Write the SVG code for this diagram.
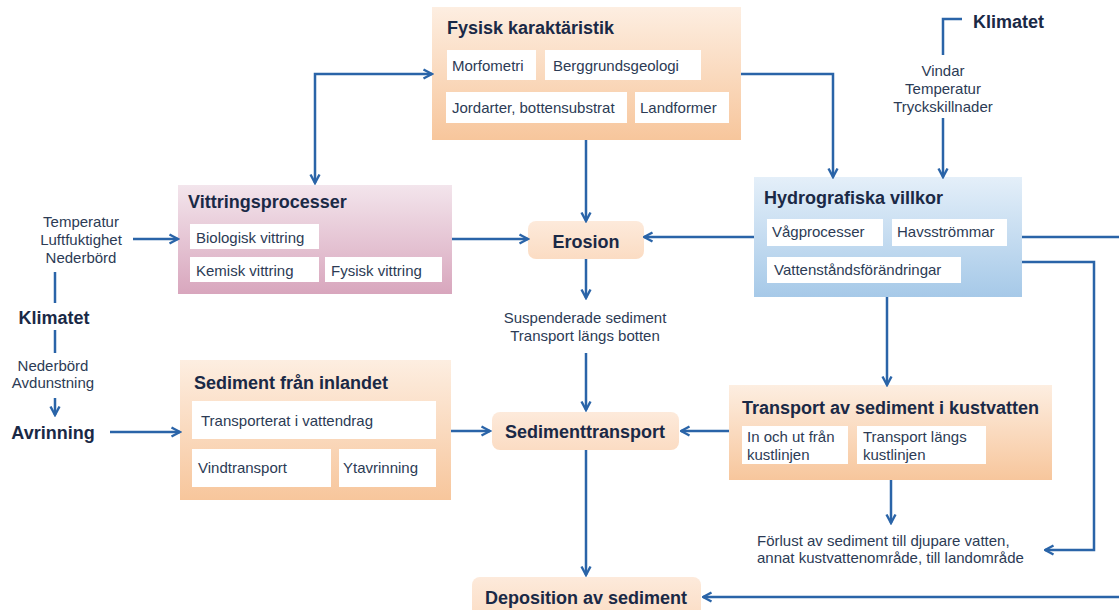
<svg xmlns="http://www.w3.org/2000/svg" width="1119" height="610" viewBox="0 0 1119 610">
<defs>
<linearGradient id="gOr" x1="0" y1="0" x2="0" y2="1"><stop offset="0" stop-color="#fdeee1"/><stop offset="1" stop-color="#f7c69c"/></linearGradient>
<linearGradient id="gBl" x1="0" y1="0" x2="0" y2="1"><stop offset="0" stop-color="#e4eff9"/><stop offset="1" stop-color="#a6c9e8"/></linearGradient>
<linearGradient id="gPk" x1="0" y1="0" x2="0" y2="1"><stop offset="0" stop-color="#f3e5ec"/><stop offset="1" stop-color="#d8a6bd"/></linearGradient>
<linearGradient id="gPe" x1="0" y1="0" x2="0" y2="1"><stop offset="0" stop-color="#fdeadb"/><stop offset="1" stop-color="#fbdcc3"/></linearGradient>
<marker id="ah" viewBox="0 0 12 12" refX="10.5" refY="6" markerWidth="12" markerHeight="12" markerUnits="userSpaceOnUse" orient="auto-start-reverse">
<path d="M2,1.5 L10.5,6 L2,10.5" fill="none" stroke="#2a64a8" stroke-width="2.4"/>
</marker>
</defs>
<style>
.t{font-family:"Liberation Sans",Arial,sans-serif;font-size:15px;fill:#2c3b55}
.b{font-family:"Liberation Sans",Arial,sans-serif;font-size:18px;font-weight:bold;fill:#1a2946}
.m{text-anchor:middle}
.in{fill:#ffffff}
.c path{fill:none;stroke:#2a64a8;stroke-width:2.5}
</style>
<rect width="1119" height="610" fill="#ffffff"/>

<g id="fysisk">
<rect x="432" y="7" width="309" height="133" fill="url(#gOr)"/>
<text class="b" x="447" y="34">Fysisk karaktäristik</text>
<rect class="in" x="447" y="50" width="89" height="30"/>
<text class="t" x="452" y="71">Morfometri</text>
<rect class="in" x="545" y="50" width="156" height="30"/>
<text class="t" x="553" y="71">Berggrundsgeologi</text>
<rect class="in" x="446" y="92" width="181" height="31"/>
<text class="t" x="452" y="113">Jordarter, bottensubstrat</text>
<rect class="in" x="635" y="92" width="94" height="31"/>
<text class="t" x="640" y="113">Landformer</text>
</g>

<g id="hydro">
<rect x="754" y="177" width="268" height="120" fill="url(#gBl)"/>
<text class="b" x="764" y="204">Hydrografiska villkor</text>
<rect class="in" x="767" y="219" width="116" height="27"/>
<text class="t" x="772" y="237">Vågprocesser</text>
<rect class="in" x="892" y="219" width="115" height="27"/>
<text class="t" x="897" y="237">Havsströmmar</text>
<rect class="in" x="767" y="257" width="194" height="26"/>
<text class="t" x="774" y="275">Vattenståndsförändringar</text>
</g>

<g id="vittring">
<rect x="178" y="185" width="274" height="109" fill="url(#gPk)"/>
<text class="b" x="188" y="208">Vittringsprocesser</text>
<rect class="in" x="190" y="224" width="129" height="25"/>
<text class="t" x="196" y="243">Biologisk vittring</text>
<rect class="in" x="190" y="257" width="129" height="25"/>
<text class="t" x="196" y="276">Kemisk vittring</text>
<rect class="in" x="325" y="257" width="117" height="25"/>
<text class="t" x="331" y="276">Fysisk vittring</text>
</g>

<g id="inlandet">
<rect x="180" y="360" width="271" height="140" fill="url(#gOr)"/>
<text class="b" x="194" y="389">Sediment från inlandet</text>
<rect class="in" x="192" y="401" width="244" height="38"/>
<text class="t" x="201" y="426">Transporterat i vattendrag</text>
<rect class="in" x="192" y="449" width="139" height="38"/>
<text class="t" x="198" y="473">Vindtransport</text>
<rect class="in" x="339" y="449" width="97" height="38"/>
<text class="t" x="343" y="473">Ytavrinning</text>
</g>

<g id="kustvatten">
<rect x="729" y="385" width="323" height="95" fill="url(#gOr)"/>
<text class="b" x="742" y="414">Transport av sediment i kustvatten</text>
<rect class="in" x="742" y="426" width="106" height="38"/>
<text class="t" x="747" y="442">In och ut från</text>
<text class="t" x="747" y="460">kustlinjen</text>
<rect class="in" x="857" y="426" width="129" height="38"/>
<text class="t" x="863" y="442">Transport längs</text>
<text class="t" x="863" y="460">kustlinjen</text>
</g>

<g id="erosion">
<rect x="528" y="221" width="116" height="38" rx="8" fill="url(#gPe)"/>
<text class="b m" x="586" y="248">Erosion</text>
</g>

<g id="sedimenttransport">
<rect x="492" y="412" width="187" height="38" rx="8" fill="url(#gPe)"/>
<text class="b m" x="585" y="438">Sedimenttransport</text>
</g>

<g id="deposition">
<rect x="472" y="577" width="229" height="44" rx="8" fill="url(#gPe)"/>
<text class="b m" x="586" y="604">Deposition av sediment</text>
</g>

<g id="klimatet-top">
<text class="b" x="973" y="28">Klimatet</text>
<text class="t m" x="943" y="76">Vindar</text>
<text class="t m" x="943" y="94">Temperatur</text>
<text class="t m" x="943" y="112">Tryckskillnader</text>
</g>

<g id="klimatet-left">
<text class="t m" x="81" y="227">Temperatur</text>
<text class="t m" x="81" y="245">Luftfuktighet</text>
<text class="t m" x="81" y="263">Nederbörd</text>
<text class="b m" x="54" y="324">Klimatet</text>
<text class="t m" x="53" y="371">Nederbörd</text>
<text class="t m" x="53" y="388">Avdunstning</text>
<text class="b m" x="53" y="439">Avrinning</text>
</g>

<g id="labels">
<text class="t m" x="585" y="323">Suspenderade sediment</text>
<text class="t m" x="585" y="341">Transport längs botten</text>
<text class="t" x="757" y="546">Förlust av sediment till djupare vatten,</text>
<text class="t" x="757" y="563">annat kustvattenområde, till landområde</text>
</g>

<g id="connectors" class="c">
<path d="M315,183 L315,74 L432,74" marker-start="url(#ah)" marker-end="url(#ah)"/>
<path d="M586,140 L586,221" marker-end="url(#ah)"/>
<path d="M741,74 L833,74 L833,177" marker-end="url(#ah)"/>
<path d="M962,19 L943,19 L943,55"/>
<path d="M943,118 L943,177" marker-end="url(#ah)"/>
<path d="M754,237 L644,237" marker-end="url(#ah)"/>
<path d="M452,239 L528,239" marker-end="url(#ah)"/>
<path d="M1022,237 L1119,237"/>
<path d="M1022,262 L1094,262 L1094,550 L1045,550" marker-end="url(#ah)"/>
<path d="M887,297 L887,385" marker-end="url(#ah)"/>
<path d="M891,480 L891,523" marker-end="url(#ah)"/>
<path d="M729,431 L681,431" marker-end="url(#ah)"/>
<path d="M451,431 L490,431" marker-end="url(#ah)"/>
<path d="M110,432 L180,432" marker-end="url(#ah)"/>
<path d="M133,239 L178,239" marker-end="url(#ah)"/>
<path d="M55,272 L55,303"/>
<path d="M55,330 L55,353"/>
<path d="M55,398 L55,415" marker-end="url(#ah)"/>
<path d="M586,259 L586,298" marker-end="url(#ah)"/>
<path d="M586,353 L586,410" marker-end="url(#ah)"/>
<path d="M586,450 L586,575" marker-end="url(#ah)"/>
<path d="M1119,597 L703,597" marker-end="url(#ah)"/>
</g>
</svg>
